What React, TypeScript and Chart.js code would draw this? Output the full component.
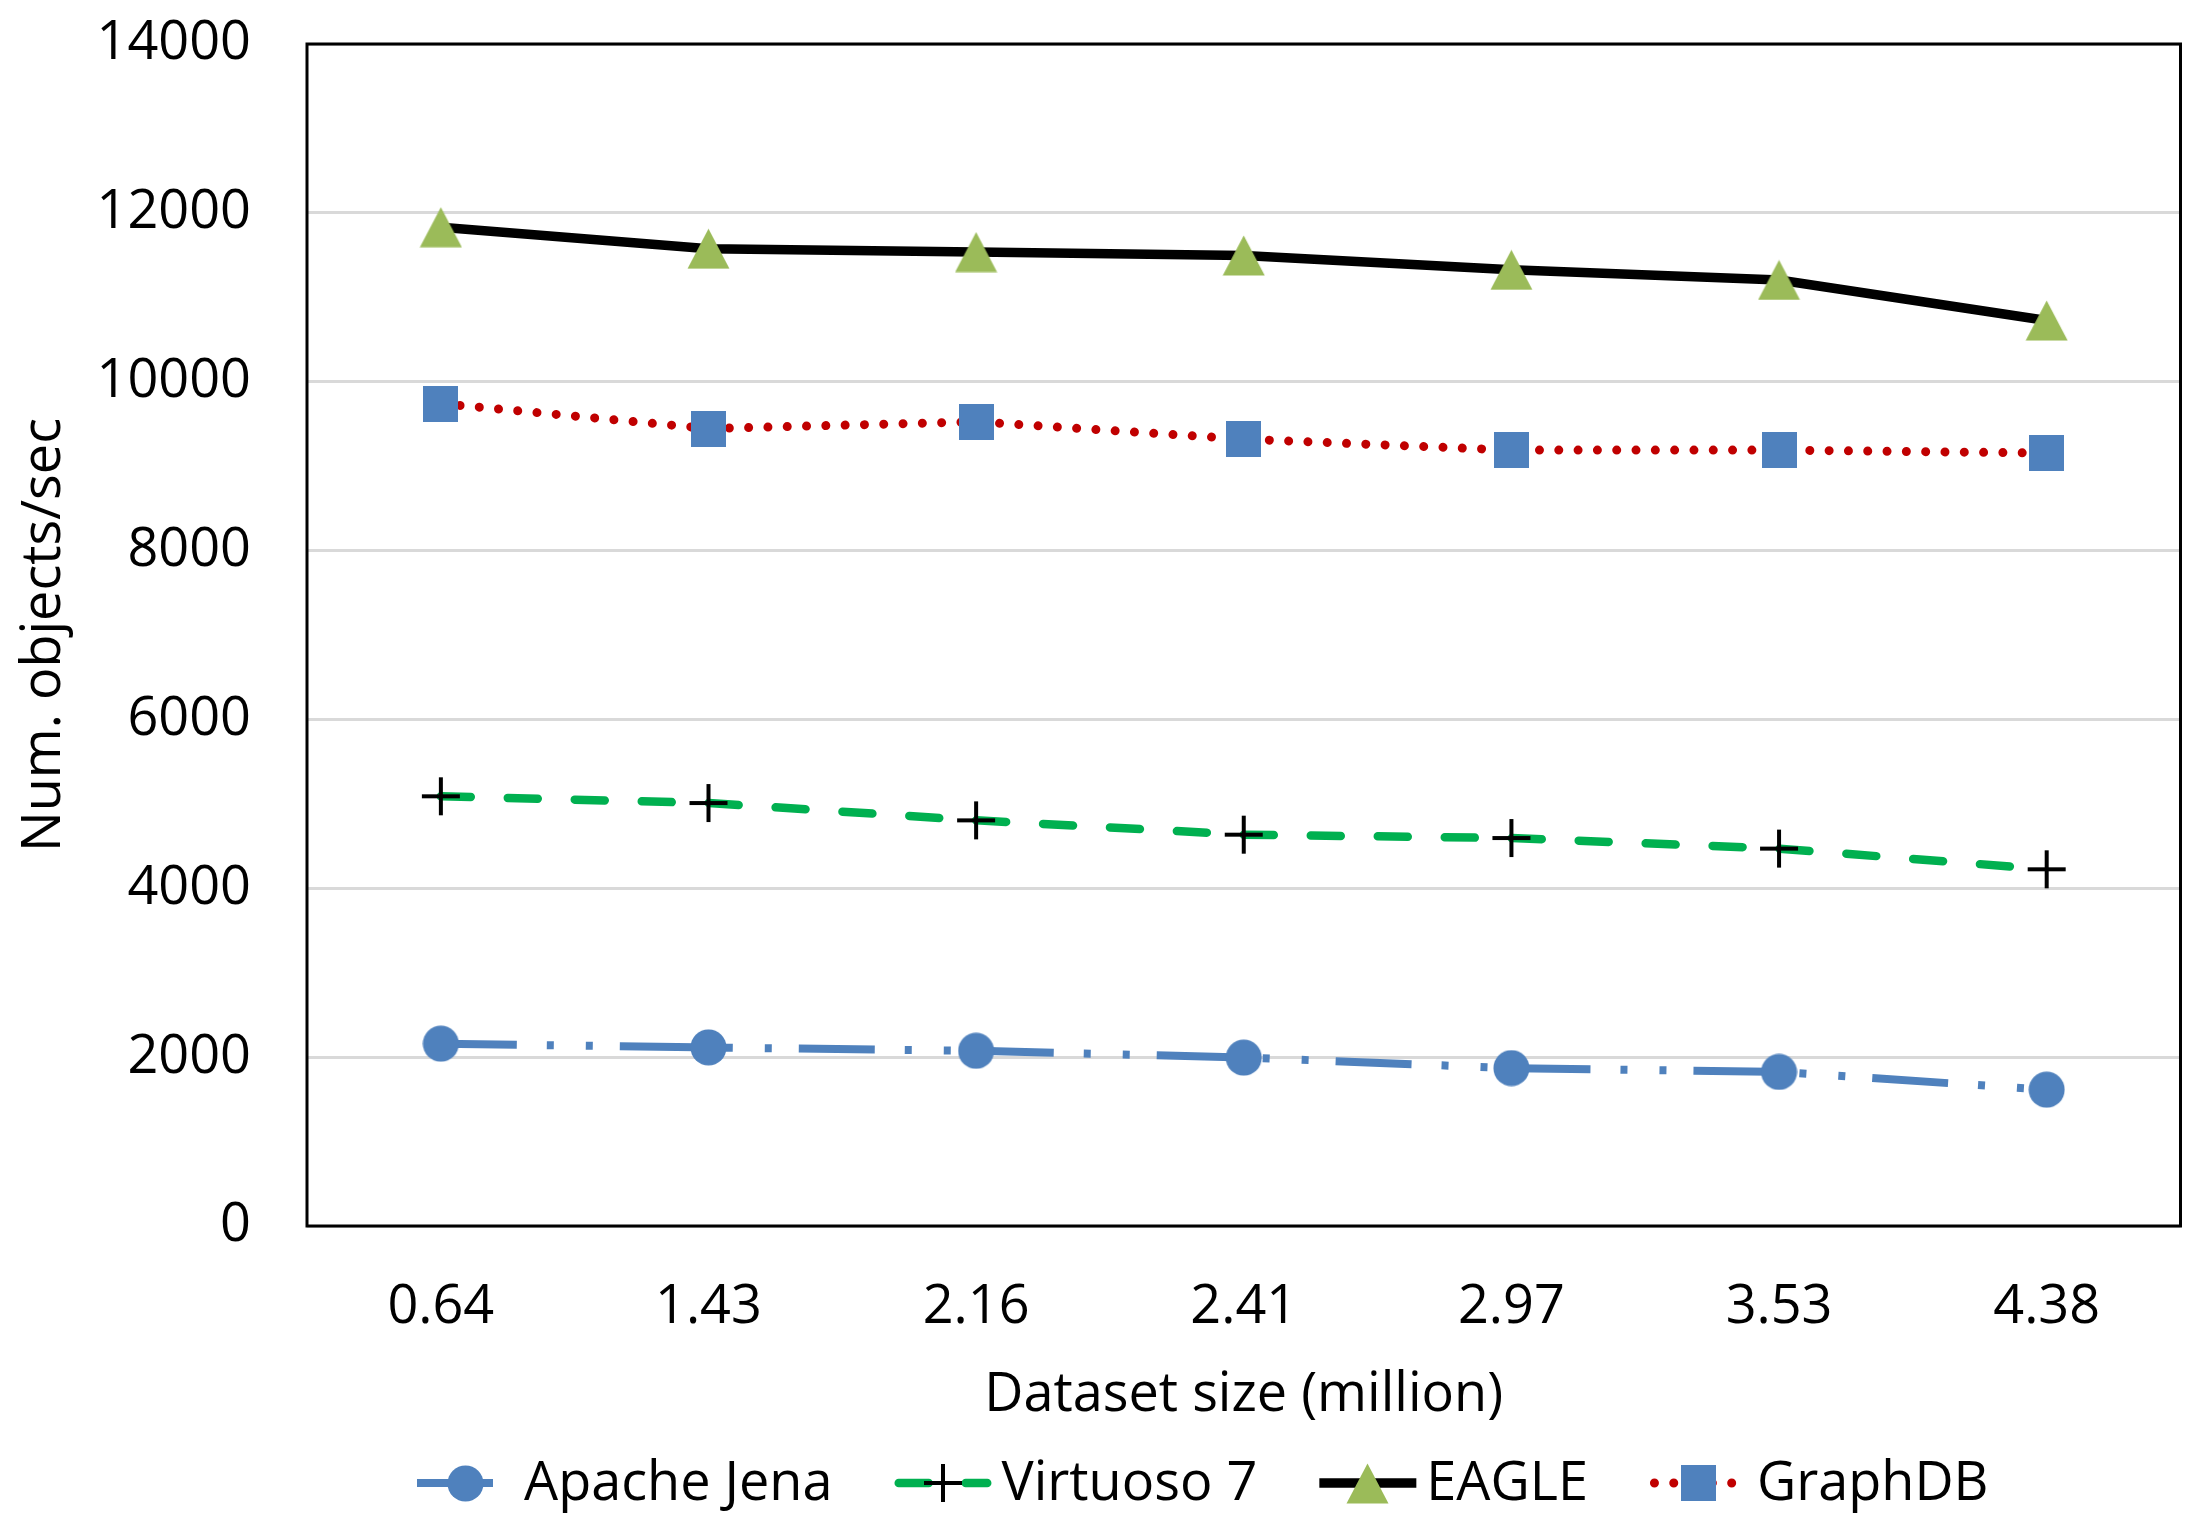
import React, { useEffect, useRef } from 'react';
import { Chart, registerables } from 'chart.js';

Chart.register(...registerables);

// ---- data ----
const categories: string[] = ['0.64', '1.43', '2.16', '2.41', '2.97', '3.53', '4.38'];
const apacheJena: number[] = [2160, 2115, 2075, 1995, 1870, 1825, 1615];
const virtuoso7: number[] = [5090, 5010, 4805, 4635, 4595, 4470, 4225];
const eagle: number[] = [11830, 11575, 11535, 11495, 11325, 11205, 10725];
const graphDB: number[] = [9740, 9445, 9525, 9320, 9190, 9190, 9155];
const seriesNames: string[] = ['Apache Jena', 'Virtuoso 7', 'EAGLE', 'GraphDB'];
const yMin = 0;
const yMax = 14000;
const yStep = 2000;
const xTitle = 'Dataset size (million)';
const yTitle = 'Num. objects/sec';

// ---- styles ----
const FONT_FAMILY = "'Open Sans', 'Noto Sans', sans-serif";
const FONT_SIZE = 54;
const BLUE = '#4F81BD';
const GREEN = '#00B050';
const OLIVE = '#9BBB59';
const RED = '#C00000';

function makeCanvas(w: number, h: number, draw: (g: CanvasRenderingContext2D) => void) {
  const c = document.createElement('canvas');
  c.width = w;
  c.height = h;
  const g = c.getContext('2d') as CanvasRenderingContext2D;
  draw(g);
  return c;
}

export default function App() {
  const ref = useRef<HTMLCanvasElement | null>(null);

  useEffect(() => {
    const canvas = ref.current;
    if (!canvas) return;

    const circleImg = makeCanvas(37, 37, (g) => {
      g.fillStyle = BLUE;
      g.beginPath();
      g.arc(18.5, 18.5, 18, 0, Math.PI * 2);
      g.fill();
    });
    const squareImg = makeCanvas(35, 36, (g) => {
      g.fillStyle = BLUE;
      g.fillRect(0, 0, 35, 36);
    });
    const triImg = makeCanvas(43, 41, (g) => {
      g.fillStyle = OLIVE;
      g.beginPath();
      g.moveTo(21.5, 0.5);
      g.lineTo(42.5, 40.5);
      g.lineTo(0.5, 40.5);
      g.closePath();
      g.fill();
    });
    const plusImg = makeCanvas(40, 40, (g) => {
      g.strokeStyle = '#000';
      g.lineWidth = 4;
      g.beginPath();
      g.moveTo(20, 1);
      g.lineTo(20, 39);
      g.moveTo(1, 20);
      g.lineTo(39, 20);
      g.stroke();
    });

    const font = { family: FONT_FAMILY, size: FONT_SIZE, weight: 'normal' as const };

    const datasets: any[] = [
      {
        label: seriesNames[0],
        data: apacheJena,
        borderColor: BLUE,
        borderWidth: 8,
        borderDash: [76, 30, 7, 32, 7, 27],
        borderCapStyle: 'butt',
        pointStyle: circleImg,
      },
      {
        label: seriesNames[1],
        data: virtuoso7,
        borderColor: GREEN,
        borderWidth: 8.5,
        borderDash: [30, 37],
        borderCapStyle: 'round',
        pointStyle: plusImg,
      },
      {
        label: seriesNames[2],
        data: eagle,
        borderColor: '#000000',
        borderWidth: 9.5,
        borderCapStyle: 'butt',
        pointStyle: triImg,
      },
      {
        label: seriesNames[3],
        data: graphDB,
        borderColor: RED,
        borderWidth: 9,
        borderDash: [0.01, 19.3],
        borderCapStyle: 'round',
        pointStyle: squareImg,
      },
    ];
    datasets.forEach((d) => {
      d.fill = false;
      d.tension = 0;
      d.pointRadius = 18;
      d.pointHoverRadius = 18;
      d.borderJoinStyle = 'round';
    });

    const plotBorder = {
      id: 'plotBorder',
      beforeDatasetsDraw(chart: any) {
        const { ctx, chartArea } = chart;
        ctx.save();
        ctx.strokeStyle = '#000';
        ctx.lineWidth = 3;
        ctx.strokeRect(chartArea.left, chartArea.top, chartArea.right - chartArea.left, chartArea.bottom - chartArea.top);
        ctx.restore();
      },
    };

    const markerFor = [circleImg, plusImg, triImg, squareImg];

    const customLegend = {
      id: 'customLegend',
      afterDraw(chart: any) {
        const { ctx } = chart;
        const sampleW = 97;
        const textGap = 10;
        const itemGap = 62;
        const yC = 1483;
        ctx.save();
        ctx.font = `${FONT_SIZE}px ${FONT_FAMILY}`;
        const ds = chart.data.datasets;
        const widths = ds.map((d: any) => ctx.measureText(d.label).width);
        let total = 0;
        widths.forEach((w: number, i: number) => {
          total += sampleW + textGap + w + (i < widths.length - 1 ? itemGap : 0);
        });
        const centerX = (chart.chartArea.left + chart.chartArea.right) / 2 - 41;
        let x = centerX - total / 2;
        ds.forEach((d: any, i: number) => {
          ctx.save();
          ctx.strokeStyle = d.borderColor;
          ctx.lineWidth = d.borderWidth;
          ctx.lineCap = d.borderCapStyle || 'butt';
          ctx.setLineDash(d.borderDash || []);
          ctx.beginPath();
          const inset = ctx.lineCap === 'round' ? d.borderWidth / 2 : 0;
          ctx.moveTo(x + inset, yC);
          ctx.lineTo(x + sampleW - inset, yC);
          ctx.stroke();
          ctx.restore();
          const img = markerFor[i];
          ctx.drawImage(img, Math.round(x + sampleW / 2 - img.width / 2), Math.round(yC - img.height / 2));
          ctx.fillStyle = '#000';
          ctx.textAlign = 'left';
          ctx.textBaseline = 'middle';
          ctx.fillText(d.label, x + sampleW + textGap, yC + 2);
          x += sampleW + textGap + widths[i] + itemGap;
        });
        ctx.restore();
      },
    };

    const chart = new Chart(canvas, {
      type: 'line',
      data: { labels: categories, datasets },
      plugins: [plotBorder, customLegend],
      options: {
        responsive: false,
        maintainAspectRatio: false,
        animation: false,
        devicePixelRatio: 1,
        events: [],
        layout: { padding: { left: 0, right: 19, top: 44, bottom: 93 } },
        plugins: {
          legend: { display: false },
          tooltip: { enabled: false },
          title: { display: false },
        },
        scales: {
          x: {
            type: 'category',
            offset: true,
            grid: { display: false, drawTicks: false },
            border: { display: false },
            ticks: { font, color: '#000', padding: 49 },
            title: {
              display: true,
              text: xTitle,
              font,
              color: '#000',
              padding: { top: 0, bottom: 12 },
            },
            afterFit: (s: any) => {
              s.height = 214;
            },
          },
          y: {
            min: yMin,
            max: yMax,
            grid: {
              color: '#D9D9D9',
              lineWidth: 3,
              drawTicks: true,
              tickLength: 56,
              tickColor: 'rgba(0,0,0,0)',
            },
            border: { display: false },
            ticks: {
              stepSize: yStep,
              font,
              color: '#000',
              padding: 0,
              callback: (v: any) => String(v),
            },
            title: {
              display: true,
              text: yTitle,
              font,
              color: '#000',
              padding: { top: 12, bottom: 0 },
            },
            afterFit: (s: any) => {
              s.width = 307;
            },
          },
        },
      } as any,
    });

    return () => {
      chart.destroy();
    };
  }, []);

  return (
    <div style={{ position: 'fixed', left: 0, top: 0, width: 2208, height: 1533, background: '#fff' }}>
      <canvas ref={ref} width={2208} height={1533} style={{ width: 2208, height: 1533, display: 'block' }} />
    </div>
  );
}
